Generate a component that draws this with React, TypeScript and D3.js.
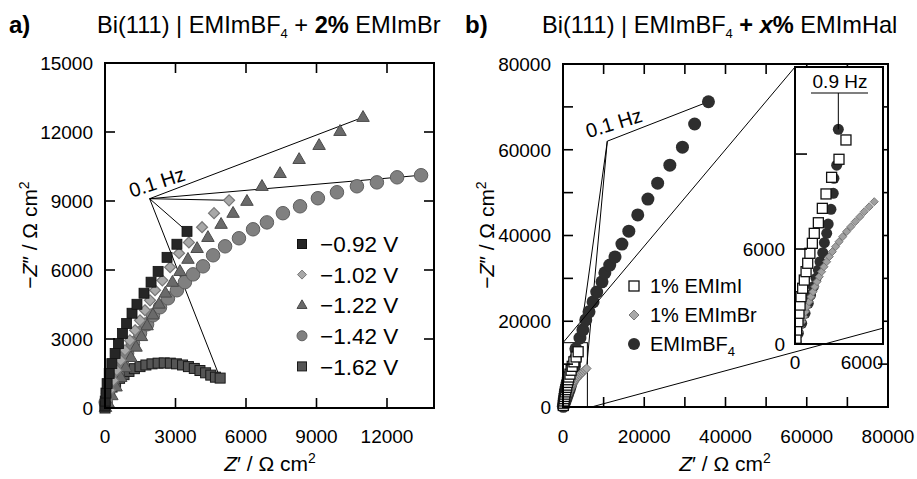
import React from 'react';
import * as d3 from 'd3';

// ---------------- Panel a data: [Z', -Z''] in Ω cm² ----------------
const aLabels = ['−0.92 V', '−1.02 V', '−1.22 V', '−1.42 V', '−1.62 V'];
const a092: [number, number][] = [
  [0, 80], [10, 300], [40, 650], [90, 1060], [180, 1500], [290, 1930], [430, 2370], [570, 2800],
  [740, 3240], [920, 3670], [1150, 4120], [1360, 4510], [1660, 4990], [1960, 5470], [2260, 5940],
  [2640, 6550], [3060, 7120], [3490, 7680],
];
const a102: [number, number][] = [
  [70, 335], [210, 770], [355, 1200], [500, 1640], [670, 2070], [850, 2510], [1060, 2940], [1280, 3380],
  [1490, 3810], [1700, 4250], [1915, 4680], [2130, 5120], [2440, 5550], [2770, 6120], [3150, 6730],
  [3570, 7200], [4130, 7860], [4640, 8470], [5280, 9030],
];
const a122: [number, number][] = [
  [20, 30], [130, 220], [290, 540], [470, 920], [670, 1330], [880, 1760], [1100, 2200], [1320, 2650],
  [1550, 3110], [1790, 3580], [2040, 4050], [2300, 4520], [2570, 5000], [2870, 5470], [3190, 5940],
  [3530, 6470], [3920, 6940], [4380, 7420], [4940, 7990], [5450, 8470], [6040, 8990], [6680, 9640],
  [7450, 10200], [8260, 10810], [9110, 11420], [10000, 12030], [10980, 12640],
];
const a142: [number, number][] = [
  [30, 250], [130, 640], [300, 1070], [510, 1510], [720, 1940], [940, 2380], [1190, 2810], [1490, 3250],
  [1790, 3640], [2040, 4030], [2340, 4380], [2680, 4770], [3060, 5120], [3400, 5470], [3750, 5810],
  [4170, 6160], [4600, 6640], [5110, 7030], [5700, 7380], [6300, 7770], [6890, 8070], [7570, 8470],
  [8300, 8770], [9060, 9120], [9870, 9380], [10720, 9640], [11570, 9810], [12430, 10030], [13450, 10120],
];
const a162: [number, number][] = [
  [0, 0], [30, 230], [90, 460], [180, 690], [300, 910], [450, 1110], [620, 1290], [810, 1450],
  [1020, 1590], [1250, 1710], [1490, 1800], [1740, 1870], [2000, 1920], [2260, 1950], [2520, 1960],
  [2780, 1950], [3040, 1920], [3300, 1870], [3550, 1800], [3800, 1720], [4040, 1630], [4280, 1530],
  [4500, 1430], [4700, 1340], [4900, 1300],
];
const aHzPoint: [number, number] = [1900, 9100];
const aTickValues = [3000, 6000, 9000, 12000];
const aXTickLabels = [0, 3000, 6000, 9000, 12000];
const aYTickLabels = [0, 3000, 6000, 9000, 12000, 15000];

// ---------------- Panel b data ----------------
const bLabels = ['1% EMImI', '1% EMImBr', 'EMImBF'];
// EMImBF4, frequencies down to 0.9 Hz (shown in inset)
const bBF4High: [number, number][] = [
  [75, 150], [245, 680], [490, 1310], [735, 1940], [970, 2570], [1140, 3090], [1340, 3620], [1540, 4150],
  [1710, 4670], [1830, 5200], [2030, 5770], [2150, 6400], [2320, 6990], [2430, 7580], [2630, 8510],
  [2800, 9520], [2850, 10470], [3050, 11300], [3170, 13560],
];
// EMImBF4, below 0.9 Hz down to 0.1 Hz
const bBF4Low: [number, number][] = [
  [4170, 16100], [4900, 18000], [5600, 20300], [6400, 22200], [7400, 24500], [8300, 26800],
  [9600, 29200], [10300, 31300], [11500, 33100], [12800, 35000], [14500, 38000], [16200, 41000],
  [18400, 44800], [20900, 48500], [23300, 52200], [26300, 56400], [29400, 60600], [32400, 66000],
  [35800, 71200],
];
const bEMImI: [number, number][] = [
  [75, 360], [120, 880], [220, 1410], [290, 1940], [370, 2460], [440, 2990], [560, 3520], [680, 4040],
  [810, 4570], [930, 5100], [1090, 5730], [1270, 6360], [1410, 6990], [1710, 7660], [2000, 8570],
  [2270, 9480], [2680, 10530], [3220, 11670], [3730, 12890],
];
const bEMImBr: [number, number][] = [
  [100, 150], [200, 460], [290, 780], [390, 1090], [510, 1410], [640, 1720], [760, 2040], [870, 2360],
  [1020, 2670], [1170, 2990], [1320, 3300], [1460, 3620], [1610, 3940], [1780, 4250], [1950, 4570],
  [2120, 4880], [2320, 5200], [2510, 5520], [2730, 5830], [2970, 6150], [3220, 6460], [3490, 6780],
  [3780, 7100], [4090, 7410], [4410, 7730], [4750, 8040], [5070, 8360], [5430, 8670], [5800, 8990],
];
const bHzPoint: [number, number] = [10900, 62000];
const bTickValues = [10000, 20000, 30000, 40000, 50000, 60000, 70000];
const bTickLabels = [0, 20000, 40000, 60000, 80000];
const bZoomRect: [number, number] = [6000, 15000];
const insetYTicks = [6000, 12000];
const insetYLabels = [0, 6000];
const insetXLabels = [0, 6000];

const FONT = 'Arial, "Liberation Sans", Helvetica, sans-serif';

type Shape = 'square' | 'diamond' | 'triangle' | 'circle';
function Marker({ shape, x, y, s, fill, stroke, sw = 1 }: { shape: Shape; x: number; y: number; s: number; fill: string; stroke?: string; sw?: number }) {
  const st = stroke || 'none';
  if (shape === 'square') return <rect x={x - s / 2} y={y - s / 2} width={s} height={s} fill={fill} stroke={st} strokeWidth={sw} />;
  if (shape === 'circle') return <circle cx={x} cy={y} r={s / 2} fill={fill} stroke={st} strokeWidth={sw} />;
  if (shape === 'diamond') {
    const h = s / 2;
    return <polygon points={`${x},${y - h} ${x + h},${y} ${x},${y + h} ${x - h},${y}`} fill={fill} stroke={st} strokeWidth={sw} />;
  }
  const h = s * 0.866;
  return <polygon points={`${x},${y - h * 0.62} ${x + s / 2},${y + h * 0.38} ${x - s / 2},${y + h * 0.38}`} fill={fill} stroke={st} strokeWidth={sw} />;
}

function Frame({ x0, x1, y0, y1, xs, ys, xt, yt, len = 10 }: any) {
  return (
    <g>
      {xt.map((v: number) => (
        <g key={'x' + v}>
          <line x1={xs(v)} x2={xs(v)} y1={y0} y2={y0 - len} stroke="#000" strokeWidth={1.6} />
          <line x1={xs(v)} x2={xs(v)} y1={y1} y2={y1 + len} stroke="#000" strokeWidth={1.6} />
        </g>
      ))}
      {yt.map((v: number) => (
        <g key={'y' + v}>
          <line x1={x0} x2={x0 + len} y1={ys(v)} y2={ys(v)} stroke="#000" strokeWidth={1.6} />
          <line x1={x1} x2={x1 - len} y1={ys(v)} y2={ys(v)} stroke="#000" strokeWidth={1.6} />
        </g>
      ))}
      <rect x={x0} y={y1} width={x1 - x0} height={y0 - y1} fill="none" stroke="#000" strokeWidth={2} />
    </g>
  );
}

export default function App() {
  // panel a scales
  const ax = d3.scaleLinear().domain([0, 14000]).range([105, 434]);
  const ay = d3.scaleLinear().domain([0, 15000]).range([408, 63]);
  // panel b scales
  const bx = d3.scaleLinear().domain([0, 80000]).range([563, 888]);
  const by = d3.scaleLinear().domain([0, 80000]).range([407, 64]);
  // inset scales
  const ix = d3.scaleLinear().domain([0, 6440]).range([795, 883]);
  const iy = d3.scaleLinear().domain([0, 17500]).range([344, 67]);

  const aStyles = [
    { data: a162, shape: 'square' as Shape, s: 10, fill: '#555555', stroke: '#1a1a1a', sw: 1 },
    { data: a142, shape: 'circle' as Shape, s: 13.5, fill: '#808080', stroke: '#5e5e5e', sw: 1 },
    { data: a122, shape: 'triangle' as Shape, s: 12.5, fill: '#6a6a6a', stroke: '#4a4a4a', sw: 1 },
    { data: a102, shape: 'diamond' as Shape, s: 11, fill: '#a8a8a8', stroke: '#777777', sw: 1.2 },
    { data: a092, shape: 'square' as Shape, s: 10, fill: '#262626', stroke: '#111', sw: 0.8 },
  ];
  const aLegend = [
    { shape: 'square' as Shape, s: 9, fill: '#262626', stroke: '#111' },
    { shape: 'diamond' as Shape, s: 9, fill: '#a8a8a8', stroke: '#777' },
    { shape: 'triangle' as Shape, s: 10, fill: '#6a6a6a', stroke: '#4a4a4a' },
    { shape: 'circle' as Shape, s: 10, fill: '#808080', stroke: '#5e5e5e' },
    { shape: 'square' as Shape, s: 9, fill: '#555555', stroke: '#1a1a1a' },
  ];
  const aEnds = [a092, a102, a122, a142, a162].map((d) => d[d.length - 1]);
  const bEnds = [bBF4Low[bBF4Low.length - 1], bEMImI[bEMImI.length - 1], bEMImBr[bEMImBr.length - 1]];
  const bBF4All = [...bBF4High, ...bBF4Low];
  const hz09 = bBF4High[bBF4High.length - 1];

  const tickFont = 19;
  const axisTitle = (x: number, y: number, rot: boolean, minus: boolean, prime: string) => (
    <text x={x} y={y} transform={rot ? `rotate(-90 ${x} ${y})` : undefined} textAnchor="middle" fontSize={21} fontFamily={FONT}>
      {minus ? '−' : ''}<tspan fontStyle="italic">Z</tspan>{prime} / Ω cm<tspan dy={-8} fontSize={14}>2</tspan>
    </text>
  );

  return (
    <div style={{ position: 'absolute', left: 0, top: 0 }}>
      <svg width={917} height={479} style={{ display: 'block', background: '#fff' }}>
        <rect width={917} height={479} fill="#fff" />
        {/* ---------- titles ---------- */}
        <text x={9} y={33} fontSize={24} fontWeight="bold" fontFamily={FONT}>a)</text>
        <text x={97} y={33} fontSize={23.6} fontFamily={FONT}>
          Bi(111) | EMImBF<tspan dy={5} fontSize={13}>4</tspan><tspan dy={-5}> + </tspan><tspan fontWeight="bold">2%</tspan> EMImBr
        </text>
        <text x={465} y={33} fontSize={24} fontWeight="bold" fontFamily={FONT}>b)</text>
        <text x={542} y={33} fontSize={23.6} fontFamily={FONT}>
          Bi(111) | EMImBF<tspan dy={5} fontSize={13}>4</tspan><tspan dy={-5} fontWeight="bold"> + </tspan><tspan fontWeight="bold" fontStyle="italic">x</tspan><tspan fontWeight="bold">%</tspan> EMImHal
        </text>

        {/* ---------- panel a ---------- */}
        {aEnds.map((p, i) => (
          <line key={'ha' + i} x1={ax(aHzPoint[0])} y1={ay(aHzPoint[1])} x2={ax(p[0])} y2={ay(p[1])} stroke="#000" strokeWidth={1} />
        ))}
        {aStyles.map((st, si) => (
          <g key={'as' + si}>
            {st.data.map((d, i) => (
              <Marker key={i} shape={st.shape} x={ax(d[0])} y={ay(d[1])} s={st.s} fill={st.fill} stroke={st.stroke} sw={st.sw} />
            ))}
          </g>
        ))}
        <text x={ax(aHzPoint[0]) - 18} y={ay(aHzPoint[1]) - 1} transform={`rotate(-18 ${ax(aHzPoint[0]) - 18} ${ay(aHzPoint[1]) - 1})`} fontSize={20} fontFamily={FONT}>0.1 Hz</text>
        {aLabels.map((l, i) => (
          <g key={'la' + i}>
            <Marker shape={aLegend[i].shape} x={302} y={244 + i * 30.6} s={aLegend[i].s} fill={aLegend[i].fill} stroke={aLegend[i].stroke} />
            <text x={320} y={244 + i * 30.6} dy="0.36em" fontSize={22.5} fontFamily={FONT}>{l}</text>
          </g>
        ))}
        <Frame x0={105} x1={434} y0={408} y1={63} xs={ax} ys={ay} xt={aTickValues} yt={aTickValues} />
        {aXTickLabels.map((v) => (
          <text key={'axl' + v} x={ax(v)} y={443} textAnchor="middle" fontSize={tickFont} fontFamily={FONT}>{v}</text>
        ))}
        {aYTickLabels.map((v) => (
          <text key={'ayl' + v} x={93} y={ay(v)} dy="0.36em" textAnchor="end" fontSize={tickFont} fontFamily={FONT}>{v}</text>
        ))}
        {axisTitle(270, 471, false, false, '′')}
        {axisTitle(37, 235, true, true, '″')}

        {/* ---------- panel b ---------- */}
        <rect x={bx(0)} y={by(bZoomRect[1])} width={bx(bZoomRect[0]) - bx(0)} height={by(0) - by(bZoomRect[1])} fill="none" stroke="#000" strokeWidth={1} />
        {bEnds.map((p, i) => (
          <line key={'hb' + i} x1={bx(bHzPoint[0])} y1={by(bHzPoint[1])} x2={bx(p[0])} y2={by(p[1])} stroke="#000" strokeWidth={1} />
        ))}
        {bBF4All.map((d, i) => (
          <Marker key={'bf' + i} shape="circle" x={bx(d[0])} y={by(d[1])} s={13} fill="#2e2e2e" />
        ))}
        {bEMImBr.map((d, i) => (
          <Marker key={'bbr' + i} shape="diamond" x={bx(d[0])} y={by(d[1])} s={9} fill="#a8a8a8" stroke="#777" />
        ))}
        {bEMImI.map((d, i) => (
          <Marker key={'bi' + i} shape="square" x={bx(d[0])} y={by(d[1])} s={10} fill="#fff" stroke="#111" sw={1.3} />
        ))}
        <text x={bx(bHzPoint[0]) - 19} y={by(bHzPoint[1]) - 3} transform={`rotate(-17 ${bx(bHzPoint[0]) - 19} ${by(bHzPoint[1]) - 3})`} fontSize={20} fontFamily={FONT}>0.1 Hz</text>
        {bLabels.map((l, i) => (
          <g key={'lb' + i}>
            {i === 0 && <Marker shape="square" x={634} y={286} s={10} fill="#fff" stroke="#111" sw={1.3} />}
            {i === 1 && <Marker shape="diamond" x={634} y={315} s={10} fill="#a8a8a8" stroke="#777" />}
            {i === 2 && <Marker shape="circle" x={634} y={344} s={12} fill="#2e2e2e" />}
            <text x={650} y={286 + i * 29} dy="0.36em" fontSize={20} fontFamily={FONT}>
              {l}{i === 2 && <tspan dy={5} fontSize={13}>4</tspan>}
            </text>
          </g>
        ))}
        <Frame x0={563} x1={888} y0={407} y1={64} xs={bx} ys={by} xt={bTickValues} yt={bTickValues} />
        {bTickLabels.map((v) => (
          <text key={'bxl' + v} x={bx(v)} y={443} textAnchor="middle" fontSize={tickFont} fontFamily={FONT}>{v}</text>
        ))}
        {bTickLabels.map((v) => (
          <text key={'byl' + v} x={551} y={by(v)} dy="0.36em" textAnchor="end" fontSize={tickFont} fontFamily={FONT}>{v}</text>
        ))}
        {axisTitle(725, 471, false, false, '′')}
        {axisTitle(494, 235, true, true, '″')}

        {/* ---------- inset ---------- */}
        <defs>
          <clipPath id="insetClip">
            <rect x={795} y={67} width={88} height={277} />
          </clipPath>
        </defs>
        <rect x={795} y={67} width={88} height={277} fill="#fff" />
        <g clipPath="url(#insetClip)">
          {bBF4High.map((d, i) => (
            <Marker key={'if' + i} shape="circle" x={ix(d[0])} y={iy(d[1])} s={11} fill="#2e2e2e" />
          ))}
          {bEMImBr.map((d, i) => (
            <Marker key={'ibr' + i} shape="diamond" x={ix(d[0])} y={iy(d[1])} s={8} fill="#a0a0a0" stroke="#777" />
          ))}
          {bEMImI.map((d, i) => (
            <Marker key={'ii' + i} shape="square" x={ix(d[0])} y={iy(d[1])} s={10} fill="#fff" stroke="#111" sw={1.3} />
          ))}
        </g>
        {insetYTicks.map((v) => (
          <line key={'iyt' + v} x1={795} x2={807} y1={iy(v)} y2={iy(v)} stroke="#000" strokeWidth={1.6} />
        ))}
        <rect x={795} y={67} width={88} height={277} fill="none" stroke="#000" strokeWidth={2} />
        <text x={840} y={88} textAnchor="middle" fontSize={19} fontFamily={FONT}>0.9 Hz</text>
        <line x1={811} x2={868} y1={93} y2={93} stroke="#000" strokeWidth={1.2} />
        <line x1={ix(hz09[0])} x2={ix(hz09[0])} y1={93} y2={iy(hz09[1])} stroke="#000" strokeWidth={1} />
        {insetYLabels.map((v) => (
          <text key={'iyl' + v} x={785} y={iy(v)} dy="0.36em" textAnchor="end" fontSize={tickFont} fontFamily={FONT}>{v}</text>
        ))}
        {insetXLabels.map((v) => (
          <text key={'ixl' + v} x={v === 0 ? ix(v) : 883} y={369} textAnchor={v === 0 ? 'middle' : 'end'} fontSize={tickFont} fontFamily={FONT}>{v}</text>
        ))}
        {/* connector lines */}
        <line x1={bx(0)} y1={by(bZoomRect[1])} x2={795} y2={67} stroke="#000" strokeWidth={1} />
        <line x1={bx(7000)} y1={by(0)} x2={883} y2={iy(1000)} stroke="#000" strokeWidth={1} />
      </svg>
    </div>
  );
}
